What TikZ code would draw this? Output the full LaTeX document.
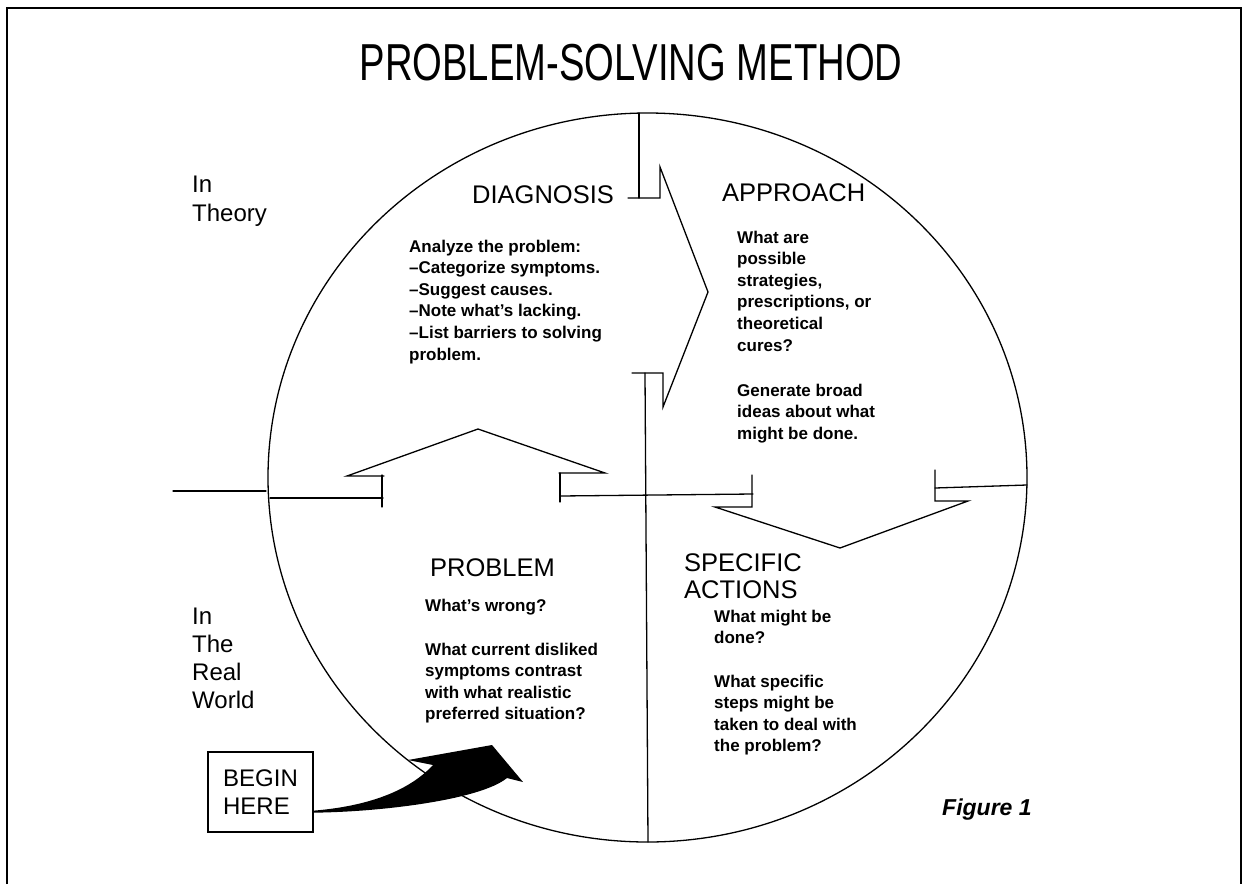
\documentclass[tikz,border=0pt]{standalone}
\usepackage{fontspec}
\setmainfont{Liberation Sans}
\newfontfamily\titlefont[FakeStretch=0.735]{Liberation Sans}
\usetikzlibrary{calc}
\begin{document}
\begin{tikzpicture}[x=1pt,y=-1pt,
  rule/.style={line width=1.3pt, line cap=round, line join=miter},
  heading/.style={anchor=base west, inner sep=0pt, font=\fontsize{25.5}{30}\selectfont},
  side/.style={anchor=base west, inner sep=0pt, font=\fontsize{24}{28}\selectfont},
  body/.style={anchor=base west, inner sep=0pt, font=\fontsize{17}{21.6}\selectfont\bfseries}]
\useasboundingbox (0,0) rectangle (1248,884);

% page frame (open at the foot)
\draw[line width=1.8pt] (7,884) -- (7,8) -- (1241,8) -- (1241,884);

% title
\node[anchor=base, inner sep=0pt, font=\titlefont\fontsize{52}{56}\selectfont] (title) at (631,80) {PROBLEM-SOLVING METHOD};

% the cycle
\draw[line width=1.3pt] (647.5,477.5) ellipse [x radius=379.5, y radius=364.5];

% vertical divider with the arrow from Diagnosis to Approach
\draw[rule] (639,113) -- (639,198);
\draw[rule] (628,198) -- (660,198) -- (660,167) -- (708,292) -- (663,407) -- (663,373) -- (632,373);
\draw[rule] (645,373) -- (648,842);

% horizontal divider with the arrows Problem -> Diagnosis and Approach -> Actions
\draw[rule] (173,491) -- (266,491);
\draw[rule] (270,498) -- (383,498);
\draw[rule] (382,475) -- (382,507);
\draw[rule] (384,476) -- (347,476) -- (478,429) -- (605,473) -- (559,473);
\draw[rule] (560,473) -- (560,502);
\draw[rule] (560,496) -- (753,494);
\draw[rule] (752,475) -- (752,507) -- (715,507) -- (840,548) -- (968,501) -- (935,501) -- (935,470);
\draw[rule] (935,488) -- (1027,485);

% side labels
\node[side] (th1) at (192,192) {In};
\node[side] (th2) at (192,221) {Theory};
\node[side] (rw1) at (192,624) {In};
\node[side] (rw2) at (192,652) {The};
\node[side] (rw3) at (192,680) {Real};
\node[side] (rw4) at (192,708) {World};

% Diagnosis quadrant
\node[heading] (dg) at (472,203) {DIAGNOSIS};
\node[body] (dg1) at (409,252) {Analyze the problem:};
\node[body] (dg2) at (409,273.6) {--Categorize symptoms.};
\node[body] (dg3) at (409,295.2) {--Suggest causes.};
\node[body] (dg4) at (409,316.8) {--Note what's lacking.};
\node[body] (dg5) at (409,338.4) {--List barriers to solving};
\node[body] (dg6) at (409,360) {problem.};

% Approach quadrant
\node[heading] (ap) at (722,201) {APPROACH};
\node[body] (ap1) at (737,243) {What are};
\node[body] (ap2) at (737,264.6) {possible};
\node[body] (ap3) at (737,286.2) {strategies,};
\node[body] (ap4) at (737,307.8) {prescriptions, or};
\node[body] (ap5) at (737,329.4) {theoretical};
\node[body] (ap6) at (737,351) {cures?};
\node[body] (ap7) at (737,396) {Generate broad};
\node[body] (ap8) at (737,417.6) {ideas about what};
\node[body] (ap9) at (737,439.2) {might be done.};

% Problem quadrant
\node[heading] (pr) at (430,576) {PROBLEM};
\node[body] (pr1) at (425,611) {What's wrong?};
\node[body] (pr2) at (425,655) {What current disliked};
\node[body] (pr3) at (425,676.6) {symptoms contrast};
\node[body] (pr4) at (425,698.2) {with what realistic};
\node[body] (pr5) at (425,719.8) {preferred situation?};

% Specific actions quadrant
\node[heading] (sa1) at (684,571) {SPECIFIC};
\node[heading] (sa2) at (684,598) {ACTIONS};
\node[body] (sb1) at (714,622) {What might be};
\node[body] (sb2) at (714,643.6) {done?};
\node[body] (sb3) at (714,687) {What specific};
\node[body] (sb4) at (714,708.6) {steps might be};
\node[body] (sb5) at (714,730.2) {taken to deal with};
\node[body] (sb6) at (714,751.8) {the problem?};

% start box and its bold curved arrow
\node[draw, line width=1.3pt, minimum width=105pt, minimum height=80pt, inner sep=0pt,
      align=left, font=\fontsize{24}{28}\selectfont] (start) at (260.5,792) {BEGIN\\HERE};
\fill ($(start.south east)+(0,-22)$) .. controls (370,806) and (410,790) .. (433,765)
  -- (408,760) -- (492,745) -- (523,782) -- (507,778)
  .. controls (480,800) and (380,812) .. ($(start.south east)+(0,-20)$) -- cycle;

% caption
\node[anchor=base west, inner sep=0pt, font=\bfseries\itshape\fontsize{23}{26}\selectfont] (fig) at (942,815) {Figure 1};
\end{tikzpicture}
\end{document}
